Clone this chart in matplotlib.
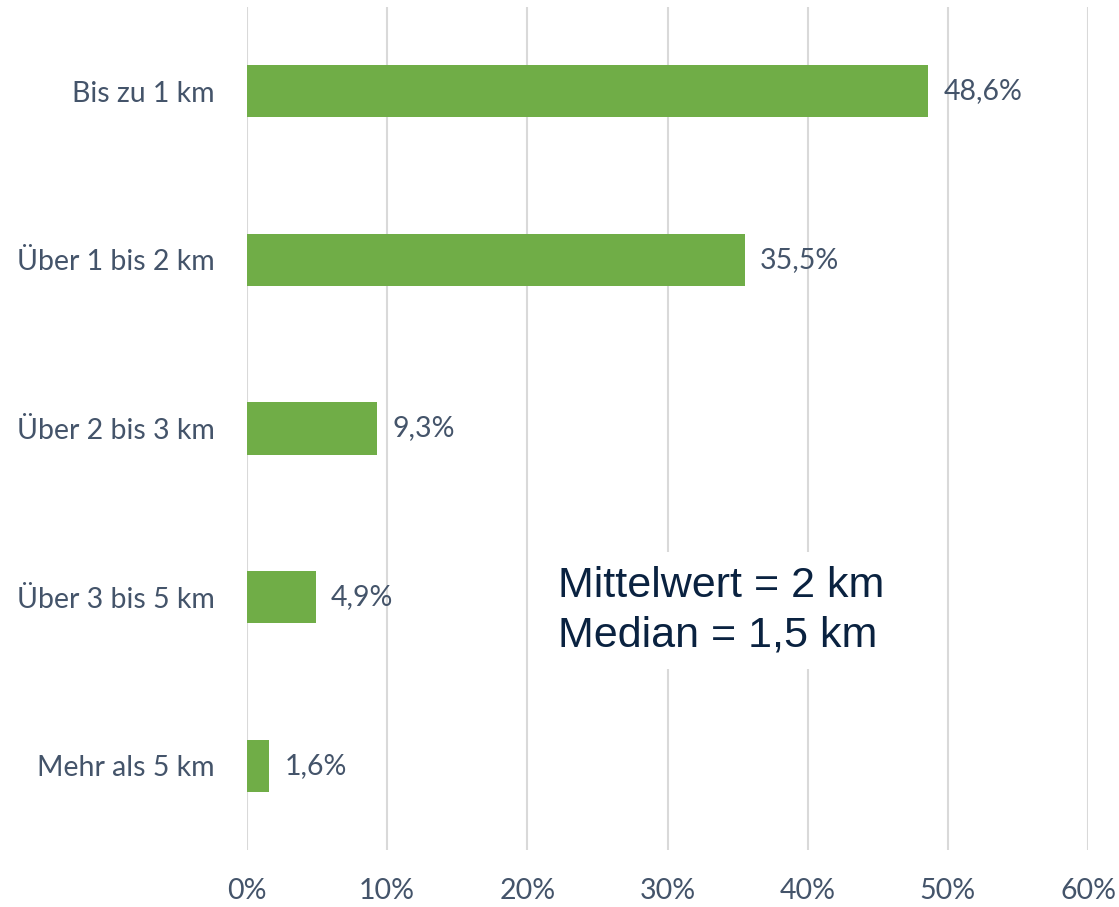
import matplotlib.pyplot as plt
import numpy as np

# Entfernung zum Ziel, Anteil in Prozent
categories = ["Bis zu 1 km", "Über 1 bis 2 km", "Über 2 bis 3 km", "Über 3 bis 5 km", "Mehr als 5 km"]
shares = [48.6, 35.5, 9.3, 4.9, 1.6]
xticks = [0, 10, 20, 30, 40, 50, 60]

label_color = "#44546A"
bar_color = "#70AD47"

fig = plt.figure(figsize=(11.19, 9.07), dpi=100)
ax = fig.add_axes([247/1119, 57/907, (1088-247)/1119, (850-7)/907])

y = np.arange(len(categories))
ax.barh(y, shares, height=0.31, color=bar_color, zorder=3)
ax.set_ylim(len(categories) - 0.5, -0.5)
ax.set_xlim(0, 60)

for yi, v in zip(y, shares):
    ax.text(v + 1.1, yi, f"{v:.1f}%".replace(".", ","), va="center", ha="left",
            fontsize=20.5, color=label_color, family="Lato")

ax.set_yticks(y)
ax.set_yticklabels(categories, fontsize=20.5, color=label_color, family="Lato")
ax.set_xticks(xticks)
ax.set_xticklabels([f"{t}%" for t in xticks], fontsize=20.5, color=label_color, family="Lato")
ax.tick_params(axis="both", length=0)
ax.tick_params(axis="y", pad=23)
ax.tick_params(axis="x", pad=20)

ax.grid(axis="x", color="#D9D9D9", linewidth=1.5, zorder=0)
for s in ax.spines.values():
    s.set_visible(False)

# Textfeld mit Kennwerten
ax.text(0.370, 0.284, "Mittelwert = 2 km\nMedian = 1,5 km", transform=ax.transAxes,
        fontsize=31, color="#0A2240", family="Liberation Sans", va="center", ha="left",
        linespacing=1.3, zorder=4,
        bbox=dict(facecolor="white", edgecolor="none", pad=10))

fig.savefig("out.png", dpi=100)
